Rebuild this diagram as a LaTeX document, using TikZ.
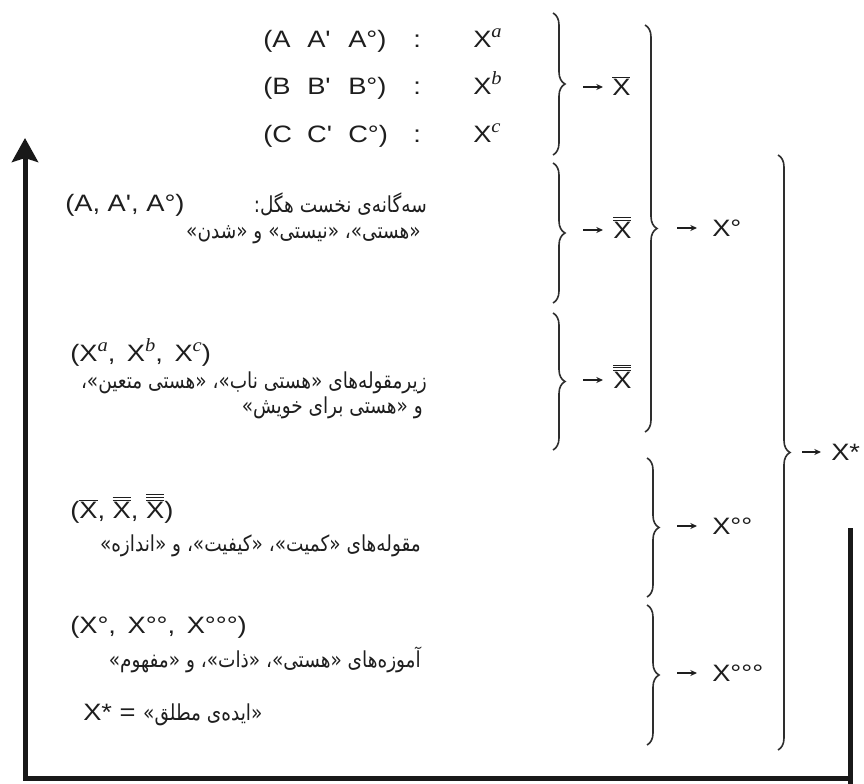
\documentclass[tikz,border=0pt]{standalone}
\usepackage{fontspec}
\usetikzlibrary{decorations.pathreplacing,arrows.meta}
\newfontfamily\lat{Liberation Sans}[FakeStretch=1.15]
\newfontfamily\serifit{Liberation Serif}[FakeStretch=1.1]
\newfontfamily\fa{DejaVu Sans}[Script=Arabic,FakeStretch=0.84]
\TeXXeTstate=1
\definecolor{ink}{HTML}{1E1E1E}
\definecolor{brk}{HTML}{2E2E2E}
\newcommand\supit[1]{\raisebox{0.45em}{\fontsize{14}{14}\selectfont\serifit\itshape #1}}
\newcommand\XI{$\overline{\hbox{X}}$}
\newcommand\XII{$\overline{\overline{\hbox{X}}}$}
\newcommand\XIII{$\overline{\overline{\overline{\hbox{X}}}}$}
\newcommand\zw{^^^^200c}
\begin{document}
\begin{tikzpicture}[x=0.75pt,y=-0.75pt,
  lat/.style={font=\fontsize{17.8}{21}\lat\selectfont, text=ink, inner sep=0pt, anchor=base west},
  per/.style={font=\fontsize{16.5}{19}\fa\selectfont, text=ink, inner sep=0pt, anchor=base east},
  rlab/.style={font=\fontsize{17.8}{21}\lat\selectfont, text=ink, inner sep=0pt, anchor=base west},
  brc/.style={decorate, decoration={brace, amplitude=9pt}, draw=brk, line width=1.2pt},
  arr/.style={-{Stealth[length=5pt,width=4.5pt]}, draw=ink, line width=1.2pt, shorten >=#1},
  axisline/.style={draw=black!90, line width=3.75pt},
]
\useasboundingbox (0,0) rectangle (864,784);

% axis
\coordinate (ax0) at (850,528);
\coordinate (ax1) at (850,784);
\coordinate (ax2) at (850,778);
\coordinate (ax3) at (25,778);
\coordinate (ax4) at (25,138);
\draw[axisline] (ax0) -- (ax1);
\draw[axisline, -{Stealth[length=18pt,width=19.5pt,inset=3pt]}] (ax2) -- (ax3) -- (ax4);

% top rows
\node[lat] (ra) at (263,48) {\makebox[33pt][l]{(A}\makebox[30.75pt][l]{A'}A°)};
\node[lat] (ca) at (413,48) {:};
\node[lat] (xa) at (473,48) {X\supit{a}};
\node[lat] (rb) at (263,95) {\makebox[33pt][l]{(B}\makebox[30.75pt][l]{B'}B°)};
\node[lat] (cb) at (413,95) {:};
\node[lat] (xb) at (473,95) {X\supit{b}};
\node[lat] (rc) at (263,143) {\makebox[33pt][l]{(C}\makebox[30.75pt][l]{C'}C°)};
\node[lat] (cc) at (413,143) {:};
\node[lat] (xc) at (473,143) {X\supit{c}};

% left texts
\node[lat] (l1) at (65,212) {(A, A', A°)};
\node[per] (p1) at (427,213) {\beginR سه\zw گانه\zw ی نخست هگل:\endR};
\node[per] (p2) at (421,239) {\beginR «هستی»، «نیستی» و «شدن»\endR};

\node[lat] (l2) at (70,362) {(X\supit{a},\, X\supit{b},\, X\supit{c})};
\node[per] (p3) at (427,388) {\beginR زیرمقوله\zw های «هستی ناب»، «هستی متعین»،\endR};
\node[per] (p4) at (423,413) {\beginR و «هستی برای خویش»\endR};

\node[lat] (l3) at (70,518) {(\XI, \XII, \XIII)};
\node[per] (p5) at (421,551) {\beginR مقوله\zw های «کمیت»، «کیفیت»، و «اندازه»\endR};

\node[lat] (l4) at (70,633) {(X°,\, X°°,\, X°°°)};
\node[per] (p6) at (421,667) {\beginR آموزه\zw های «هستی»، «ذات»، و «مفهوم»\endR};

\node[lat] (l5) at (83,720) {X* = {\fontsize{16.5}{19}\fa\selectfont\beginR «ایده\zw ی مطلق»\endR}};

% braces
\draw[brc] (553,13) -- (553,155);
\draw[brc] (553,163) -- (553,303);
\draw[brc] (553,313) -- (553,450);
\draw[brc] (645,25) -- (645,432);
\draw[brc] (647,458) -- (647,597);
\draw[brc] (647,605) -- (647,745);
\draw[brc] (778,155) -- (778,750);

% results
\node[rlab] (r1) at (612,95.5) {\XI};
\node[rlab] (r2) at (613,238.5) {\XII};
\node[rlab] (r3) at (613,388.5) {\XIII};
\node[rlab] (r4) at (712,236.5) {X°};
\node[rlab] (r5) at (712,534.5) {X°°};
\node[rlab] (r6) at (712,681.5) {X°°°};
\node[rlab] (r7) at (831,460.5) {X*};

\coordinate (s1) at (583,87);
\coordinate (s2) at (583,230);
\coordinate (s3) at (583,380);
\coordinate (s4) at (677,228);
\coordinate (s5) at (677,526);
\coordinate (s6) at (677,673);
\coordinate (s7) at (802,452);
\draw[arr=6.75pt] (s1) -- (s1 -| r1.west);
\draw[arr=7.5pt] (s2) -- (s2 -| r2.west);
\draw[arr=7.5pt] (s3) -- (s3 -| r3.west);
\draw[arr=11.25pt] (s4) -- (s4 -| r4.west);
\draw[arr=11.25pt] (s5) -- (s5 -| r5.west);
\draw[arr=11.25pt] (s6) -- (s6 -| r6.west);
\draw[arr=7.5pt] (s7) -- (s7 -| r7.west);
\end{tikzpicture}
\end{document}
